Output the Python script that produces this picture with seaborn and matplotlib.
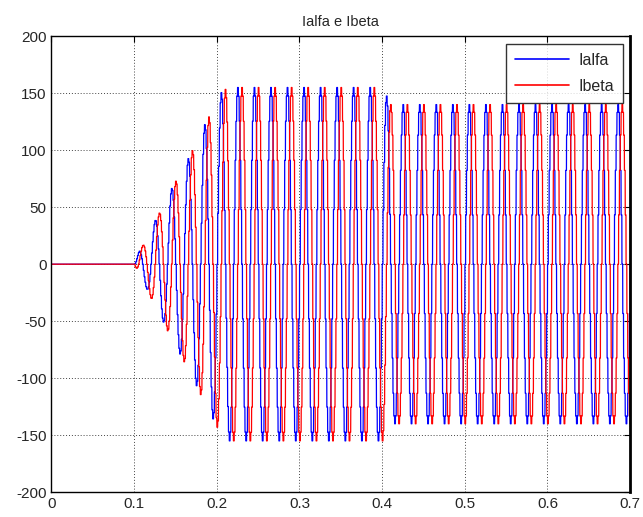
import numpy as np
import pandas as pd
import matplotlib
matplotlib.use("Agg")
import matplotlib.pyplot as plt
import seaborn as sns

# ---- data ----
# envelope (peak amplitude) knots of the current waveforms
env_t = [0.0, 0.100, 0.106, 0.116, 0.126, 0.136, 0.146, 0.156, 0.166, 0.176,
         0.186, 0.196, 0.206, 0.215, 0.400, 0.410, 0.700]
env_amp = [0, 0, 12, 23, 40, 52, 68, 80, 94, 108,
           124, 137, 152, 155, 155, 140, 140]
freq_hz = 50.0            # fundamental frequency
t_start = 0.100           # currents start at 0.1 s
beta_lag_deg = 90.0       # Ibeta lags Ialfa
steps_per_cycle = 20      # staircase (sample & hold) shape
series_names = ["Ialfa", "Ibeta"]
series_colors = ["#0000ff", "#ff0000"]
x_ticks = [0, 0.1, 0.2, 0.3, 0.4, 0.5, 0.6, 0.7]
x_labels = ["0", "0.1", "0.2", "0.3", "0.4", "0.5", "0.6", "0.7"]
y_ticks = [-200, -150, -100, -50, 0, 50, 100, 150, 200]
title = "Ialfa e Ibeta"

# ---- build waveforms ----
t = np.linspace(0, 0.7, 14001)
ts = 1.0 / (freq_hz * steps_per_cycle)
t_held = np.where(t >= t_start, t_start + np.floor((t - t_start) / ts) * ts, t)
amp = np.interp(t_held, env_t, env_amp)
w = 2 * np.pi * freq_hz
ph = w * (t_held - t_start)
ialfa = np.where(t >= t_start, amp * np.sin(ph), 0.0)
ibeta = np.where(t >= t_start, amp * np.sin(ph - np.deg2rad(beta_lag_deg)), 0.0)

df = pd.DataFrame({
    "t": np.concatenate([t, t]),
    "I": np.concatenate([ialfa, ibeta]),
    "serie": [series_names[0]] * len(t) + [series_names[1]] * len(t),
})

sns.set_style("white")
plt.rcParams["font.family"] = ["Liberation Sans", "DejaVu Sans"]
plt.rcParams["axes.unicode_minus"] = False

fig = plt.figure(figsize=(6.43, 5.17), dpi=100)
ax = fig.add_axes([0.080, 0.048, 0.900, 0.882])

sns.lineplot(data=df, x="t", y="I", hue="serie", palette=series_colors,
             estimator=None, linewidth=0.9, ax=ax, sort=False)

ax.set_xlim(0, 0.7)
ax.set_ylim(-200, 200)
ax.set_xticks(x_ticks)
ax.set_xticklabels(x_labels)
ax.set_yticks(y_ticks)
ax.set_xlabel("")
ax.set_ylabel("")
ax.set_title(title, fontsize=10.5, pad=7)
ax.grid(True, color="#444444", linestyle=(0, (1, 2)), linewidth=0.7)
ax.tick_params(direction="in", length=4, top=True, right=True, labelsize=11,
               color="black", width=0.8)
for s in ax.spines.values():
    s.set_color("black")
    s.set_linewidth(1.0)
ax.spines["right"].set_linewidth(2.0)

leg = ax.legend(loc="upper right", fontsize=11.5, frameon=True, fancybox=False,
                edgecolor="black", handlelength=3.4, borderpad=0.55,
                labelspacing=0.7, handletextpad=0.6, borderaxespad=0,
                bbox_to_anchor=(0.988, 0.983))
leg.get_frame().set_linewidth(1.0)
for line in leg.get_lines():
    line.set_linewidth(1.2)

fig.savefig("out.png", dpi=100)
